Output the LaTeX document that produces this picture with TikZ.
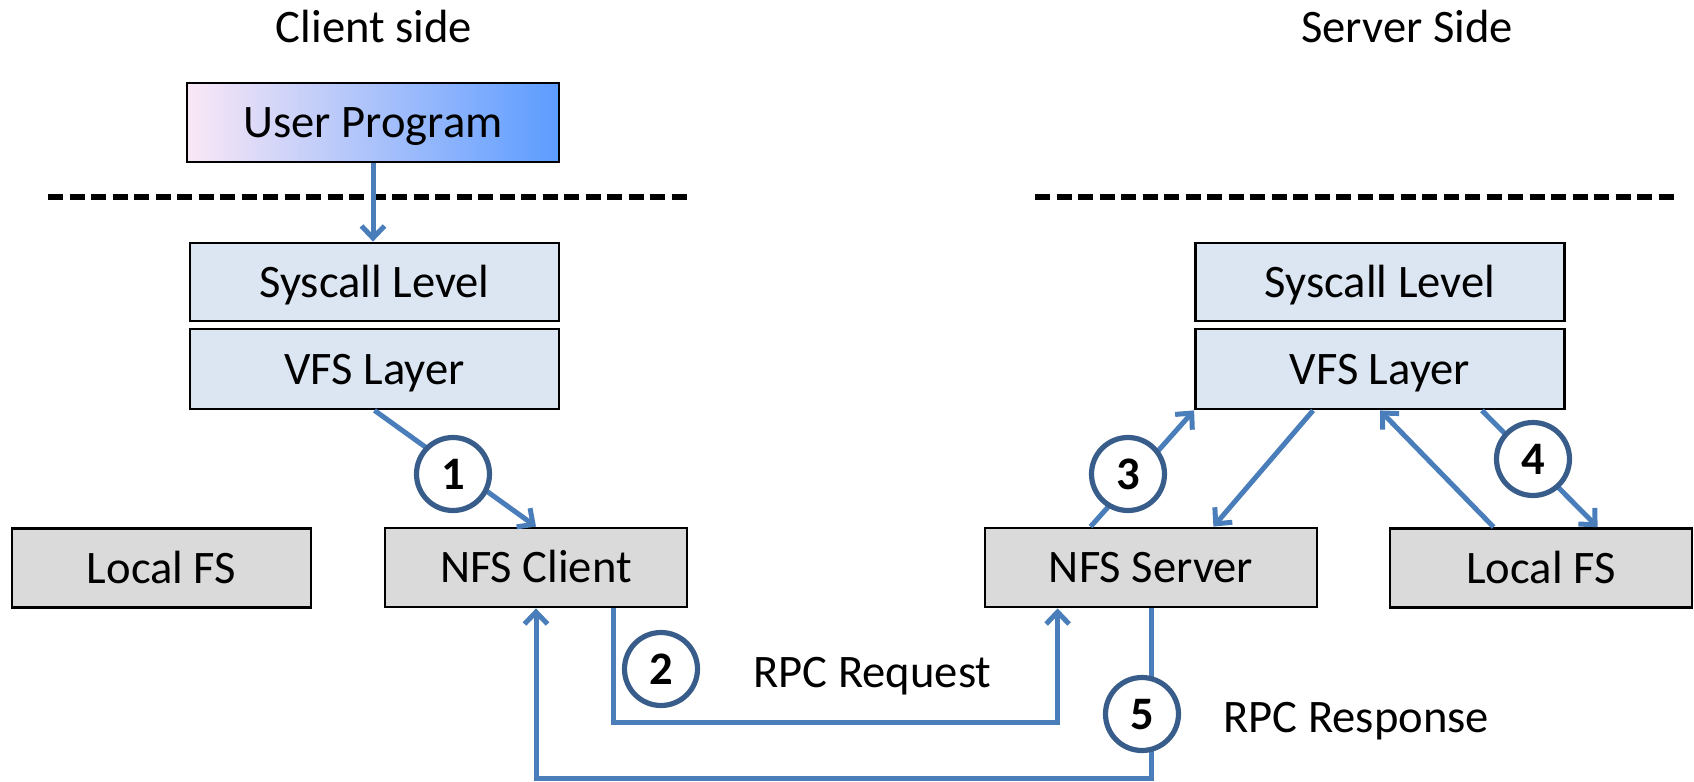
\documentclass[tikz,border=0pt]{standalone}
\usepackage{fontspec}
\setmainfont{Carlito}
\usetikzlibrary{arrows.meta,calc}

\definecolor{flowblue}{RGB}{74,126,187}
\definecolor{numblue}{RGB}{56,93,138}
\definecolor{layerblue}{RGB}{220,230,242}
\definecolor{fsgray}{RGB}{218,218,218}
\definecolor{upleft}{RGB}{250,232,246}
\definecolor{upmid}{RGB}{140,196,250}
\definecolor{upright}{RGB}{92,156,255}

\newcommand\labelsize{\fontsize{23.3}{28}\selectfont}

\begin{document}
\begin{tikzpicture}[x=0.5pt,y=-0.5pt,
  box/.style={draw=black,line width=1.4pt,inner sep=0pt,text height=15pt,text depth=0pt,
              minimum height=39.5pt,font=\labelsize},
  layer/.style={box,fill=layerblue,minimum width=184.5pt},
  fsbox/.style={box,fill=fsgray},
  num/.style={circle,draw=numblue,line width=2.6pt,fill=white,minimum size=36.5pt,inner sep=0pt,
              text height=15pt,text depth=0pt,font=\labelsize\bfseries},
  flow/.style={draw=flowblue,line width=2.5pt},
  arrowed/.style={-{Straight Barb[length=6pt,width=11.5pt]}},
  sep/.style={draw=black,line width=2.6pt,dash pattern=on 7.5pt off 3.25pt},
  caption/.style={font=\labelsize,inner sep=0pt,anchor=base}
]
\useasboundingbox (0,0) rectangle (1694,782);

% side headings
\node[caption] (cside) at (374,42) {Client side};
\node[caption] (sside) at (1407,42) {Server Side};

% user / kernel boundaries
\draw[sep] (48,197) -- (692,197);
\draw[sep] (1035,197) -- (1679,197);

% client stack
\node[box,minimum width=186pt,left color=upleft,middle color=upmid,right color=upright]
  (up) at (373,122.5) {User Program};
\node[layer,minimum height=39pt] (sysc) at (374.5,282) {Syscall Level};
\node[layer,minimum height=40pt] (vfsc) at (374.5,369) {VFS Layer};
\node[fsbox,minimum width=149.5pt] (lfsc) at (161.5,568) {Local FS};
\node[fsbox,minimum width=151pt] (nfsc) at (536,567.5) {NFS Client};

% server stack
\node[layer,minimum height=39pt] (syss) at (1380,282) {Syscall Level};
\node[layer,minimum height=40pt] (vfss) at (1380,369) {VFS Layer};
\node[fsbox,minimum width=166pt] (nfss) at (1151,567.5) {NFS Server};
\node[fsbox,minimum width=151pt] (lfss) at (1541,568) {Local FS};

% client-side calls
\draw[flow,arrowed] (up.south) -- (up.south |- sysc.north);
\draw[flow,arrowed] (vfsc.south) -- (nfsc.north);

% RPC request and response lanes
\coordinate (reqout) at ($(nfsc.south east)+(-75,0)$);
\coordinate (reqin) at ($(nfss.south west)+(74,0)$);
\coordinate (reqlane) at (0,722);
\coordinate (resplane) at (0,778);
\draw[flow,arrowed] (reqout) -- (reqout |- reqlane) -- (reqin |- reqlane) -- (reqin);
\draw[flow,arrowed] (nfss.south) -- (nfss.south |- resplane) -- (nfsc.south |- resplane) -- (nfsc.south);

% server-side calls
\draw[flow,arrowed] ($(nfss.north west)+(107,0)$) -- (vfss.south west);
\draw[flow,arrowed] ($(vfss.south west)+(119,0)$) -- ($(nfss.north east)+(-105,0)$);
\draw[flow,arrowed] ($(lfss.north west)+(105,0)$) -- (vfss.south);
\draw[flow,arrowed] ($(vfss.south east)+(-84,0)$) -- ($(lfss.north west)+(209,0)$);

% step numbers
\node[num] (n1) at (453,474) {1};
\node[num] (n2) at (661,669) {2};
\node[num] (n3) at (1128,474) {3};
\node[num] (n4) at (1533,459) {4};
\node[num] (n5) at (1142,714) {5};

% lane labels
\node[caption,anchor=base west] (rpcreq) at (753,687) {RPC Request};
\node[caption,anchor=base west] (rpcresp) at (1223,732) {RPC Response};
\end{tikzpicture}
\end{document}
